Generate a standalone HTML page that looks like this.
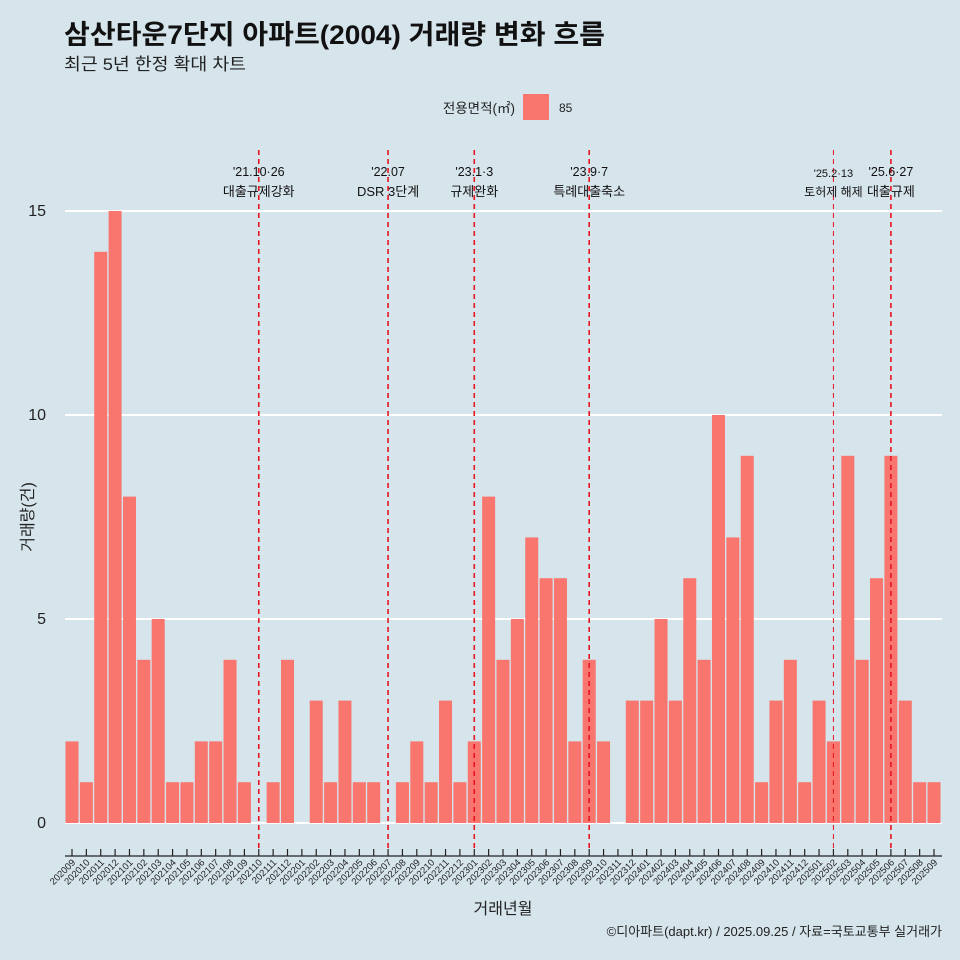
<!DOCTYPE html>
<html><head><meta charset="utf-8">
<style>
body{margin:0;background:#d6e4ec;font-family:"Liberation Sans","Noto Sans CJK KR",sans-serif;}
svg text{font-family:"Liberation Sans","Noto Sans CJK KR",sans-serif;}
</style></head>
<body>
<svg id="chart" width="960" height="960" xmlns="http://www.w3.org/2000/svg" style="display:block">
<rect width="960" height="960" fill="#d6e4ec"/>
<text x="64" y="44" font-size="27" font-weight="bold" fill="#111" textLength="541" lengthAdjust="spacingAndGlyphs">삼산타운7단지 아파트(2004) 거래량 변화 흐름</text>
<text x="64" y="70" font-size="17" fill="#222" textLength="182" lengthAdjust="spacingAndGlyphs">최근 5년 한정 확대 차트</text>
<text x="515" y="113" font-size="13.5" text-anchor="end" fill="#222">전용면적(㎡)</text>
<rect x="523" y="94" width="26" height="26" fill="#f8766d"/>
<text x="559" y="112" font-size="12" fill="#222">85</text>
<g id="grid"></g>
<g id="bars"></g>
<g id="events"></g>
<g id="xaxis"></g>
<text x="503" y="914" font-size="16" text-anchor="middle" fill="#222">거래년월</text>
<text x="33" y="517" font-size="16" text-anchor="middle" fill="#222" transform="rotate(-90 33 517)">거래량(건)</text>
<text x="942" y="936" font-size="13" text-anchor="end" fill="#222">©디아파트(dapt.kr) / 2025.09.25 / 자료=국토교통부 실거래가</text>
</svg>
<script>
const months = ["202009","202010","202011","202012","202101","202102","202103","202104","202105","202106","202107","202108","202109","202110","202111","202112","202201","202202","202203","202204","202205","202206","202207","202208","202209","202210","202211","202212","202301","202302","202303","202304","202305","202306","202307","202308","202309","202310","202311","202312","202401","202402","202403","202404","202405","202406","202407","202408","202409","202410","202411","202412","202501","202502","202503","202504","202505","202506","202507","202508","202509"];
const counts = [2,1,14,15,8,4,5,1,1,2,2,4,1,0,1,4,0,3,1,3,1,1,0,1,2,1,3,1,2,8,4,5,7,6,6,2,4,2,0,3,3,5,3,6,4,10,7,9,1,3,4,1,3,2,9,4,6,9,3,1,1];
const yTicks = [0,5,10,15];
const eventMonths = ["202110","202207","202301","202309","202502","202506"];
const eventDates = ["'21.10·26","'22.07","'23.1·3","'23.9·7","'25.2·13","'25.6·27"];
const eventNames = ["대출규제강화","DSR 3단계","규제완화","특례대출축소","토허제 해제","대출규제"];

const NS="http://www.w3.org/2000/svg";
const x0=72, step=(934-72)/(months.length-1), bw=13;
const xPos = i => x0 + i*step;
const yPos = v => 823 - v*(823-211)/15;
function el(tag, attrs, parent){const e=document.createElementNS(NS,tag);for(const k in attrs)e.setAttribute(k,attrs[k]);parent.appendChild(e);return e;}
const grid=document.getElementById('grid'), bars=document.getElementById('bars'), ev=document.getElementById('events'), xa=document.getElementById('xaxis');
yTicks.forEach(t=>{
  const l=el('line',{x1:65,x2:942,y1:yPos(t),y2:yPos(t),stroke:'#fff','stroke-width':2},grid);
  
  
  const tx=el('text',{x:46,y:yPos(t)+5,'font-size':16,'text-anchor':'end',fill:'#222'},grid);
  tx.textContent=t;
  
  
});
counts.forEach((v,i)=>{
  const r=el('rect',{x:xPos(i)-bw/2,y:yPos(v),width:bw,height:yPos(0)-yPos(v),fill:'#f8766d'},bars);
  
  
});
el('line',{x1:65,x2:942,y1:856,y2:856,stroke:'#222','stroke-width':1.2},xa);
months.forEach((m,i)=>{
  const t=el('line',{x1:xPos(i),x2:xPos(i),y1:849,y2:856,stroke:'#222','stroke-width':1.2},xa);
  
  
  const x=xPos(i)+4, y=863;
  const tx=el('text',{x:x,y:y,'font-size':9.5,'text-anchor':'end',fill:'#222',transform:`rotate(-45 ${x} ${y})`},xa);
  tx.textContent=m;
  
  
});
eventMonths.forEach((m,k)=>{
  const i=months.indexOf(m); const x=xPos(i);
  const thin = m==="202502";
  const l=el('line',{x1:x,x2:x,y1:150,y2:850,stroke:'#e8141e','stroke-width':thin?1:1.6,'stroke-dasharray':'5,4'},ev);
  
  
  const small = thin;
  const t1=el('text',{x:x,y:small?177:176,'font-size':small?11:12.5,'text-anchor':'middle',fill:'#111'},ev);
  t1.textContent=eventDates[k];
  
  
  const t2=el('text',{x:x,y:196,'font-size':small?12:13,'text-anchor':'middle',fill:'#111'},ev);
  t2.textContent=eventNames[k];
  
  
});
</script>
</body></html>
